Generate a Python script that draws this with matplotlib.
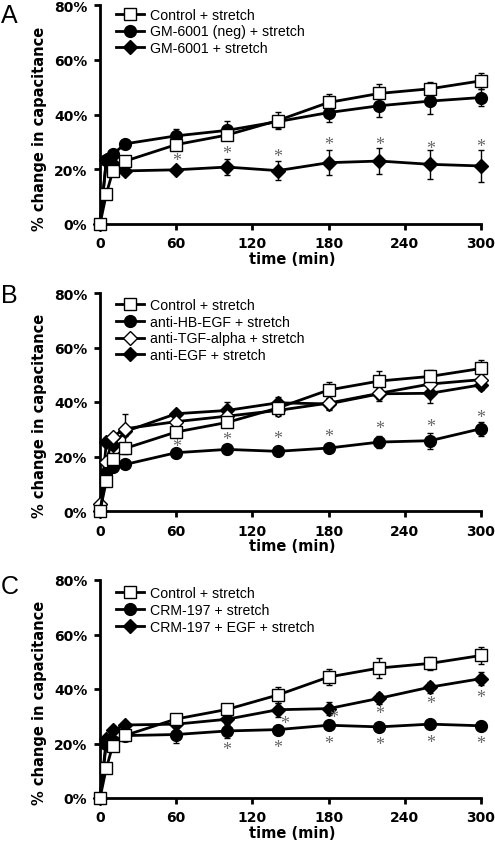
import numpy as np
import matplotlib
matplotlib.use('Agg')
from matplotlib import pyplot as plt
from matplotlib.transforms import offset_copy

# time points (min)
t = [0, 5, 10, 20, 60, 100, 140, 180, 220, 260, 300]

# control series is shared by all three panels
ctrl = [0, 11, 19.2, 23, 29, 32.5, 37.8, 44.4, 47.7, 49.4, 52.3]
ctrl_err = [0, 1, 1.5, 2, 1.5, 1.5, 3, 3, 3.5, 2.5, 3]

# panel A
gm_neg = [0, 23.3, 25.5, 29.3, 32.2, 34.2, 37.4, 40.7, 43.2, 44.9, 46.2]
gm_neg_err = [0, 1, 1, 1, 2.5, 3.4, 2, 3.4, 4, 4.8, 3]
gm = [0, 23.5, 22, 19.4, 19.8, 20.8, 19.5, 22.4, 23, 21.8, 21.2]
gm_err = [0, 1, 1, 1, 1, 3, 3.5, 4.6, 4.9, 5.3, 5.9]
star_a_x = [60, 100, 140, 180, 220, 260, 300]
star_a_y = [24.6, 27.1, 26.1, 30.4, 30.5, 29.1, 29.8]

# panel B
hb = [0, 14, 16.1, 17.1, 21.4, 22.6, 21.9, 23.1, 25.3, 25.8, 30.2]
hb_err = [0, 1, 1, 1, 1.5, 1.5, 1.5, 1.5, 2.2, 3, 2.5]
tgf = [2.7, 17.8, 27.3, 30.2, 32.8, 34.8, 36.9, 39.6, 43.2, 46.6, 48.2]
tgf_err = [0, 1, 1.5, 5.5, 1.5, 2, 1.5, 2.5, 2, 2, 1.5]
egf = [0, 25.3, 24.2, 29.2, 35.7, 36.9, 39.7, 39.3, 43, 43.2, 46.3]
egf_err = [0, 1.5, 1, 1.5, 1.5, 3, 2, 2, 2.5, 3.5, 2]
star_b_x = [60, 100, 140, 180, 220, 260, 300]
star_b_y = [25.3, 27.7, 28.1, 28.7, 31.7, 32.6, 35.7]

# panel C
crm = [0, 20, 21, 22.9, 23.3, 24.6, 25.1, 26.7, 26.1, 27.1, 26.5]
crm_err = [0, 1, 1, 1, 3, 2.7, 1.5, 1.5, 1.5, 1.5, 1.5]
crm_egf = [0, 21.5, 24.8, 26.8, 27.1, 28.9, 32.4, 32.8, 36.6, 40.7, 43.8]
crm_egf_err = [0, 1, 1, 1, 1.5, 2, 2.5, 2.5, 2, 2, 2.5]
star_c_x = [100, 140, 180, 220, 260, 300, 145, 184, 220, 260, 300]
star_c_y = [19.3, 19.9, 21.3, 21.1, 21.7, 21.5, 28.8, 30.9, 32.3, 36.3, 38.4]

STYLE = {
    'sq': dict(marker='s', ms=8.5, mfc='white', mec='black', mew=1.0),
    'ci': dict(marker='o', ms=8.5, mfc='black', mec='black'),
    'dia': dict(marker='D', ms=6.8, mfc='black', mec='black'),
    'odia': dict(marker='D', ms=6.8, mfc='white', mec='black', mew=1.0),
}

fig = plt.figure(figsize=(4.95, 8.45), dpi=100)


def panel(rect, series, stars, letter, letter_y, leg_y):
    ax = fig.add_axes(rect)
    for i, (y, e, st, lab) in enumerate(series):
        ax.errorbar(t, y, yerr=e, fmt='none', ecolor='black', elinewidth=1.0,
                    capsize=2.5, capthick=1.0, zorder=2 + i, clip_on=False)
        ax.plot(t, y, color='black', lw=2.0, label=lab, zorder=10 - i,
                clip_on=False, **STYLE[st])
    # asterisk glyph sits high in its box, nudge it down a few pixels
    tr = offset_copy(ax.transData, fig=fig, y=-4, units='dots')
    for x, y in zip(*stars):
        ax.text(x, y, '*', ha='center', va='center', fontsize=13,
                color='0.4', family='Liberation Serif', transform=tr,
                zorder=15)
    ax.set_xlim(0, 300)
    ax.set_ylim(0, 80)
    ax.set_xticks([0, 60, 120, 180, 240, 300])
    ax.set_yticks([0, 20, 40, 60, 80])
    ax.set_yticklabels(['0%', '20%', '40%', '60%', '80%'])
    for s in ['top', 'right']:
        ax.spines[s].set_visible(False)
    for s in ['left', 'bottom']:
        ax.spines[s].set_linewidth(2.0)
    ax.tick_params(direction='out', length=4, width=2, pad=5,
                   labelsize=10)
    for lb in ax.get_xticklabels() + ax.get_yticklabels():
        lb.set_fontweight('bold')
    ax.set_xlabel('time (min)', fontsize=10.5, fontweight='bold')
    ax.set_ylabel('% change in capacitance', fontsize=10.5, fontweight='bold')
    ax.xaxis.set_label_coords(0.505, -0.125)
    ax.yaxis.set_label_coords(-0.14, 0.44)
    ax.legend(loc='upper left', bbox_to_anchor=(0.042, leg_y), frameon=False,
              handlelength=2.0, handletextpad=0.4,
              labelspacing=0.2, borderpad=0, borderaxespad=0,
              prop={'family': 'Liberation Sans', 'size': 10.2})
    fig.text(0.002, letter_y, letter, fontsize=18, family='Liberation Sans',
             va='top', ha='left')
    return ax


panel([100 / 495, (845 - 225) / 845, 381 / 495, 219 / 845],
      [(ctrl, ctrl_err, 'sq', 'Control + stretch'),
       (gm_neg, gm_neg_err, 'ci', 'GM-6001 (neg) + stretch'),
       (gm, gm_err, 'dia', 'GM-6001 + stretch')],
      (star_a_x, star_a_y), 'A', 1 - 4 / 845, 0.988)

panel([100 / 495, (845 - 512) / 845, 381 / 495, 218 / 845],
      [(ctrl, ctrl_err, 'sq', 'Control + stretch'),
       (hb, hb_err, 'ci', 'anti-HB-EGF + stretch'),
       (tgf, tgf_err, 'odia', 'anti-TGF-alpha + stretch'),
       (egf, egf_err, 'dia', 'anti-EGF + stretch')],
      (star_b_x, star_b_y), 'B', 1 - 284 / 845, 0.978)

panel([100 / 495, (845 - 799) / 845, 381 / 495, 218 / 845],
      [(ctrl, ctrl_err, 'sq', 'Control + stretch'),
       (crm, crm_err, 'ci', 'CRM-197 + stretch'),
       (crm_egf, crm_egf_err, 'dia', 'CRM-197 + EGF + stretch')],
      (star_c_x, star_c_y), 'C', 1 - 575 / 845, 0.972)

fig.savefig('out.png', dpi=100)
